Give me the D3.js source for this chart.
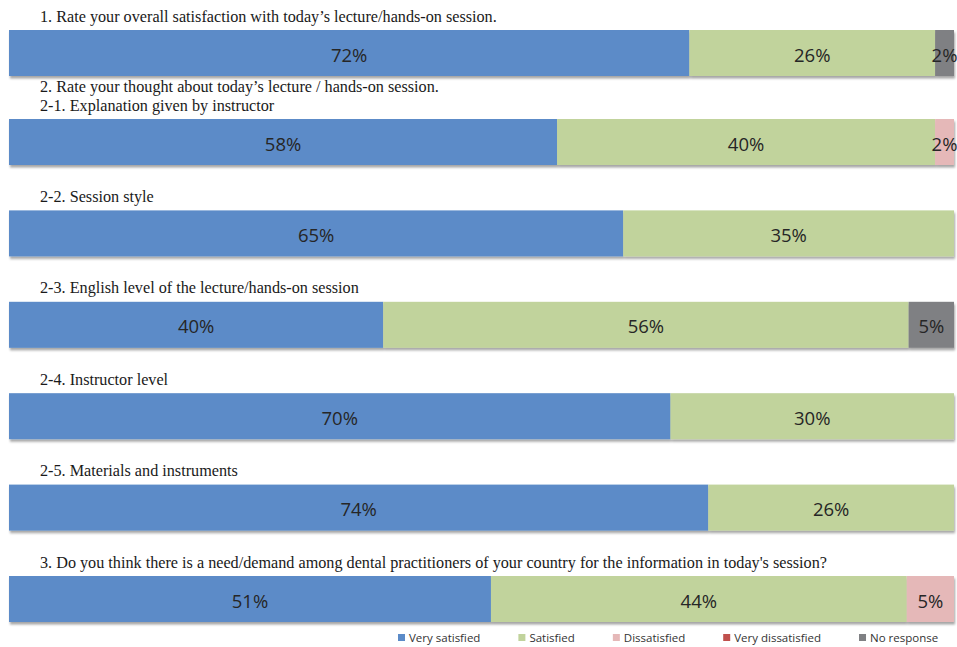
<!DOCTYPE html>
<html>
<head>
<meta charset="utf-8">
<script src="https://cdn.jsdelivr.net/npm/d3@7"></script>
<style>
  html, body { margin: 0; padding: 0; background: #ffffff; }
  svg { display: block; }
</style>
</head>
<body>
<svg id="chart" width="957" height="647"></svg>
<script>
// ---- data ----
const headings = [
  ["1. Rate your overall satisfaction with today\u2019s lecture/hands-on session."],
  ["2. Rate your thought about today\u2019s lecture / hands-on session.", "2-1. Explanation given by instructor"],
  ["2-2. Session style"],
  ["2-3. English level of the lecture/hands-on session"],
  ["2-4. Instructor level"],
  ["2-5. Materials and instruments"],
  ["3. Do you think there is a need/demand among dental practitioners of your country for the information in today's session?"]
];
const seriesNames = ["Very satisfied", "Satisfied", "Dissatisfied", "Very dissatisfied", "No response"];
const verySatisfied    = [72, 58, 65, 39.6, 70, 74, 51];
const satisfied        = [26, 40, 35, 55.6, 30, 26, 44];
const dissatisfied     = [0, 2, 0, 0, 0, 0, 5];
const veryDissatisfied = [0, 0, 0, 0, 0, 0, 0];
const noResponse       = [2, 0, 0, 4.8, 0, 0, 0];
const colors = ["#5b8bc8", "#c1d39c", "#e5b8b8", "#c0504d", "#7f8083"];

// ---- build ----
const series = [verySatisfied, satisfied, dissatisfied, veryDissatisfied, noResponse];
const rows = headings.map((h, i) => {
  const r = { idx: i };
  seriesNames.forEach((s, k) => r[s] = series[k][i]);
  return r;
});
const stacked = d3.stack().keys(seriesNames)(rows);

const svg = d3.select("#chart");
const defs = svg.append("defs");
const f = defs.append("filter").attr("id", "shadow")
  .attr("x", "-2%").attr("y", "-20%").attr("width", "104%").attr("height", "150%");
f.append("feDropShadow").attr("dx", 1).attr("dy", 2.5).attr("stdDeviation", 1.2)
  .attr("flood-color", "#000").attr("flood-opacity", 0.35);

const x = d3.scaleLinear().domain([0, 100]).range([9, 954]);
const y = d3.scaleLinear().domain([0, 1, 6]).range([30, 119, 576]);
const barH = 46;
const lineGap = 18.2;

// headings
const hg = svg.append("g").attr("font-family", "'Liberation Serif', 'Times New Roman', serif")
  .attr("font-size", 16.2).attr("fill", "#1a1a1a");
headings.forEach((lines, i) => {
  lines.forEach((line, j) => {
    hg.append("text")
      .attr("x", 40)
      .attr("y", y(i) - 8.5 - (lines.length - 1 - j) * lineGap)
      .text(line);
  });
});

// bars
const barG = svg.append("g");
rows.forEach((r, i) => {
  const g = barG.append("g").attr("filter", "url(#shadow)");
  stacked.forEach((s, k) => {
    const d = s[i];
    if (d[1] - d[0] <= 0) return;
    g.append("rect")
      .attr("x", x(d[0])).attr("y", y(i))
      .attr("width", x(d[1]) - x(d[0])).attr("height", barH)
      .attr("fill", colors[k]);
  });
});

// labels
const lg = svg.append("g").attr("font-family", "'Open Sans', sans-serif")
  .attr("font-size", 18.5).attr("fill", "#262626").attr("text-anchor", "middle");
rows.forEach((r, i) => {
  stacked.forEach((s, k) => {
    const d = s[i];
    const v = d[1] - d[0];
    if (v <= 0) return;
    lg.append("text")
      .attr("x", (x(d[0]) + x(d[1])) / 2)
      .attr("y", y(i) + barH / 2 + 1)
      .attr("dominant-baseline", "central")
      .text(Math.round(v) + "%");
  });
});

// legend
const leg = svg.append("g").attr("font-family", "'Open Sans', sans-serif")
  .attr("font-size", 11.5).attr("fill", "#333");
let lx = 398;
seriesNames.forEach((name, k) => {
  leg.append("rect").attr("x", lx).attr("y", 634).attr("width", 7).attr("height", 7).attr("fill", colors[k]);
  const t = leg.append("text").attr("x", lx + 11).attr("y", 641.5).text(name);
  lx += 11 + t.node().getComputedTextLength() + 38;
});
</script>
</body>
</html>
